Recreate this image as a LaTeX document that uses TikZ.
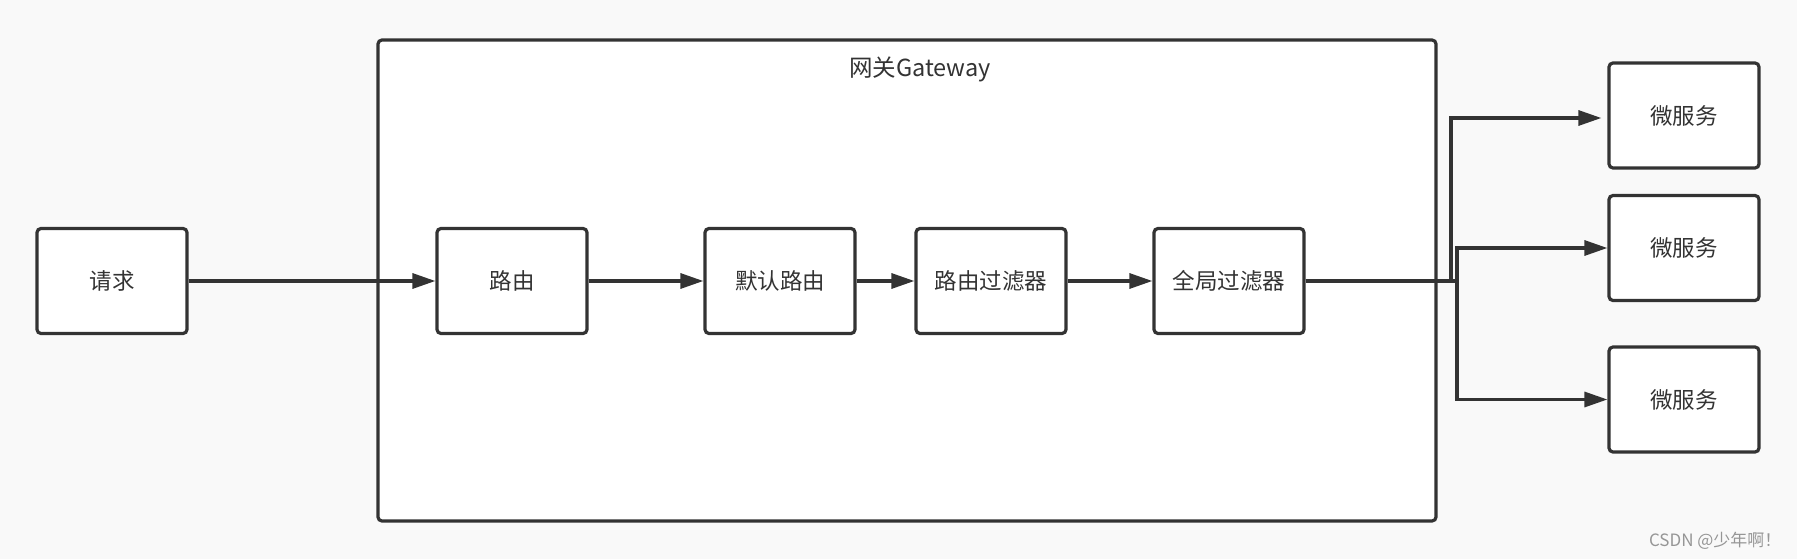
\documentclass[tikz,border=0pt]{standalone}
\usepackage{fontspec}
\setmainfont{Noto Sans CJK SC}
\usetikzlibrary{arrows.meta}
\definecolor{ln}{HTML}{333333}
\begin{document}
\begin{tikzpicture}[x=1pt,y=-1pt,
  box/.style={draw=ln,line width=3.2pt,rounded corners=4pt,fill=white,minimum width=150pt,minimum height=105pt,inner sep=0pt,font=\fontsize{22.5}{22.5}\selectfont,text=ln},
  arr/.style={draw=ln,line width=3.2pt,-{Triangle[length=23pt,width=15pt]}}]
\useasboundingbox[fill={rgb,255:red,249;green,249;blue,249}] (0,0) rectangle (1797,559);
\draw[ln,line width=3.2pt,rounded corners=4pt,fill=white] (378,40) rectangle (1436,521);
\node[font=\fontsize{23.5}{23.5}\selectfont,text=ln] (title) at (920,69) {网关Gateway};
\node[box] (req) at (112,281) {请求};
\node[box] (r) at (512,281) {路由};
\node[box] (d) at (780,281) {默认路由};
\node[box] (f) at (991,281) {路由过滤器};
\node[box] (g) at (1229,281) {全局过滤器};
\node[box] (m1) at (1684,115.5) {微服务};
\node[box] (m2) at (1684,248) {微服务};
\node[box] (m3) at (1684,399.5) {微服务};
\draw[arr] (req) -- (r);
\draw[arr] (r) -- (d);
\draw[arr] (d) -- (f);
\draw[arr] (f) -- (g);
\draw[arr] (g.east) -- (1451,281) |- ([yshift=-2.5pt,xshift=-6pt]m1.west);
\draw[arr] (g.east) -- (1457,281) |- (m2.west);
\draw[arr] (g.east) -- (1457,281) |- (m3.west);
\node[font=\fontsize{17}{17}\selectfont,text={rgb,255:red,150;green,150;blue,150},anchor=east] (wm) at (1785,541) {CSDN @少年啊！};
\end{tikzpicture}
\end{document}
